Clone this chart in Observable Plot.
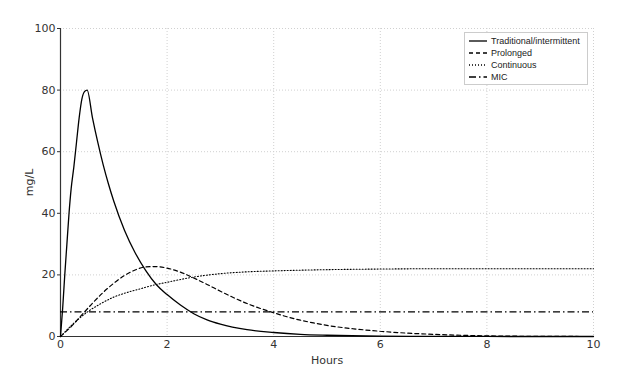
<!DOCTYPE html>
<html>
<head>
<meta charset="utf-8">
<script src="https://cdn.jsdelivr.net/npm/d3@7"></script>
<script src="https://cdn.jsdelivr.net/npm/@observablehq/plot@0.6"></script>
<style>
  html, body { margin: 0; padding: 0; background: #fff; }
  #wrap { position: relative; width: 624px; height: 390px; }
  #legend { position: absolute; left: 464px; top: 32px; width: 124px; height: 53px;
    border: 1px solid #ccc; background: #fff; box-sizing: border-box;
    font-family: "Liberation Sans", Arial, sans-serif; font-size: 9px; color: #222; padding-top: 2px; }
  .row { display: flex; align-items: center; height: 12px; }
  .row svg { margin-left: 4px; margin-right: 4px; }
</style>
</head>
<body>
<div id="wrap"><div id="legend"></div></div>
<script>
const xTicks = [0, 2, 4, 6, 8, 10];
const yTicks = [0, 20, 40, 60, 80, 100];

const tradHours = [0,0.04,0.08,0.12,0.16,0.2,0.25,0.3,0.35,0.4,0.45,0.5,0.6,0.7,0.8,0.9,1.0,1.2,1.4,1.6,1.8,2.0,2.25,2.5,2.75,3.0,3.5,4.0,4.5,5.0,6,7,8,9,10];
const tradConc  = [0,9,20,30,40,48,55,63,71,77,79.5,80,71,63,55.8,49.5,43.9,34.5,27.2,21.4,16.8,13.6,10.2,7.4,5.4,4.0,2.2,1.3,0.7,0.4,0.1,0.03,0.01,0,0];

const prolHours = [0,0.2,0.4,0.6,0.8,1.0,1.2,1.4,1.6,1.8,2.0,2.25,2.5,2.75,3.0,3.25,3.5,3.75,4.0,4.25,4.5,4.75,5.0,5.5,6.0,6.5,7.0,7.5,8,9,10];
const prolConc  = [0,3.2,7.0,10.8,14.3,17.3,19.8,21.6,22.6,22.7,22.2,20.9,19.0,16.9,14.7,12.6,10.7,9.1,7.7,6.4,5.3,4.4,3.6,2.5,1.7,1.1,0.7,0.4,0.2,0.05,0];

const contHours = [0,0.25,0.5,0.75,1.0,1.25,1.5,1.75,2.0,2.5,3.0,3.5,4.0,5,6,7,8,9,10];
const contConc  = [0,4.3,7.9,10.6,12.8,14.3,15.5,16.7,17.6,19.3,20.4,21.0,21.3,21.7,21.9,22,22,22,22];

const micValue = [8];

const seriesNames = ["Traditional/intermittent", "Prolonged", "Continuous", "MIC"];
const seriesDash = ["none", "4,3", "1,2", "7,3,1.5,3"];

const toRows = (xs, ys) => xs.map((h, i) => ({h, c: ys[i]}));

const font = "DejaVu Sans, sans-serif";
const chart = Plot.plot({
  width: 624, height: 390,
  marginLeft: 60, marginRight: 31, marginTop: 28, marginBottom: 54,
  style: {fontFamily: font, fontSize: "11px", color: "#333", background: "#fff"},
  x: {domain: [0, 10], label: "Hours"},
  y: {domain: [0, 100], label: "mg/L"},
  marks: [
    Plot.gridX(xTicks, {stroke: "#d0d0d0", strokeOpacity: 1, strokeDasharray: "1,2"}),
    Plot.gridY(yTicks, {stroke: "#d0d0d0", strokeOpacity: 1, strokeDasharray: "1,2"}),
    Plot.axisX({ticks: xTicks, tickSize: 2, tickPadding: 2, label: "Hours", labelAnchor: "center", labelArrow: "none", labelOffset: 27, fontSize: 11, stroke: null}),
    Plot.axisY({ticks: yTicks, tickSize: 3, tickPadding: 2, label: "mg/L", labelAnchor: "center", labelArrow: "none", labelOffset: 35, fontSize: 11}),
    Plot.ruleX([0], {stroke: "#333", strokeWidth: 1.2}),
    Plot.ruleY([0], {stroke: "#333", strokeWidth: 1.2}),
    Plot.ruleY(micValue, {y: d => d, stroke: "#000", strokeWidth: 1.4, strokeDasharray: seriesDash[3]}),
    Plot.line(toRows(contHours, contConc), {x: "h", y: "c", stroke: "#000", strokeWidth: 1.1, strokeDasharray: seriesDash[2], curve: "monotone-x"}),
    Plot.line(toRows(prolHours, prolConc), {x: "h", y: "c", stroke: "#000", strokeWidth: 1.2, strokeDasharray: seriesDash[1], curve: "monotone-x"}),
    Plot.line(toRows(tradHours, tradConc), {x: "h", y: "c", stroke: "#000", strokeWidth: 1.3, curve: "monotone-x"})
  ]
});
document.getElementById("wrap").prepend(chart);

const legend = document.getElementById("legend");
seriesNames.forEach((name, i) => {
  const row = document.createElement("div");
  row.className = "row";
  row.innerHTML = `<svg width="18" height="6"><line x1="0" y1="3" x2="18" y2="3" stroke="#000" stroke-width="1.3" ${seriesDash[i] !== "none" ? `stroke-dasharray="${seriesDash[i]}"` : ""}/></svg><span>${name}</span>`;
  legend.appendChild(row);
});
</script>
</body>
</html>
